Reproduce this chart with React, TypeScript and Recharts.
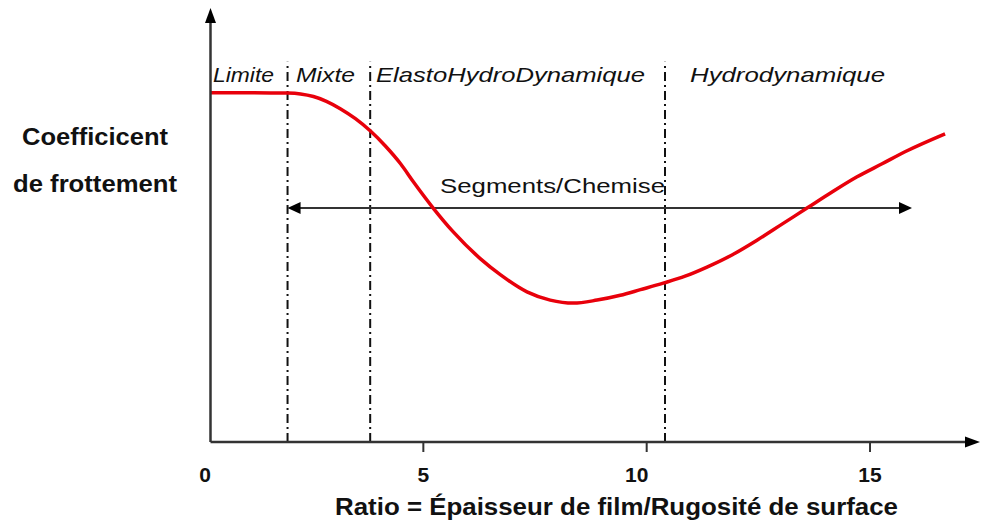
import { LineChart, Line, XAxis, YAxis, ReferenceLine } from "recharts";

// Stribeck curve (x: film ratio, y: friction, arbitrary 0..10)
const ratio = [
  0.235, 1.13, 1.96, 2.25, 2.54, 2.83, 3.14, 3.48, 3.81, 4.15, 4.49, 4.78, 5.22, 5.67, 6.28, 6.73, 7.32,
  7.84, 8.36, 8.89, 9.41, 9.86, 10.37, 10.86, 11.35, 11.91, 12.47, 13.03, 13.59, 14.15, 14.71, 15.27,
  15.83, 16.68,
];
const frottement = [
  8.05, 8.05, 8.04, 8.02, 7.96, 7.85, 7.68, 7.45, 7.17, 6.82, 6.41, 5.99, 5.39, 4.84, 4.22, 3.85, 3.46,
  3.27, 3.2, 3.27, 3.38, 3.51, 3.66, 3.82, 4.03, 4.31, 4.65, 5.02, 5.39, 5.76, 6.11, 6.41,
  6.71, 7.1,
];

const regimeLimits = [1.96, 3.81, 10.41];
const regimeTop = 8.76;
const regimeNames = ["Limite", "Mixte", "ElastoHydroDynamique", "Hydrodynamique"];
const xTicks = [0, 5, 10, 15];
const arrowSpan = [1.96, 15.94];
const arrowLevel = 5.39;
const arrowLabel = "Segments/Chemise";
const yLabel = ["Coefficicent", "de frottement"];
const xLabel = "Ratio = Épaisseur de film/Rugosité de surface";

const data = ratio.map((r, i) => ({ r, f: frottement[i] }));

const W = 981;
const H = 521;
const AXIS = "#333";
const RED = "#e8000b";
const FONT = "'Liberation Sans', Arial, sans-serif";

// label boxes [left, width]
const regimeBoxes = [
  [213, 61],
  [296, 59],
  [376, 269],
  [690, 195],
];

function head(tx: number, ty: number, ux: number, uy: number, len: number, half: number) {
  const bx = tx - ux * len;
  const by = ty - uy * len;
  return `${tx},${ty} ${bx - uy * half},${by + ux * half} ${bx + uy * half},${by - ux * half}`;
}

const arrowShape =
  (opts: { start?: boolean; extend?: number; len: number; half: number; width: number }) =>
  (p: any) => {
    const { x1, y1, x2, y2 } = p;
    const d = Math.hypot(x2 - x1, y2 - y1) || 1;
    const ux = (x2 - x1) / d;
    const uy = (y2 - y1) / d;
    const ext = opts.extend ?? 0;
    const tx = x2 + ux * ext;
    const ty = y2 + uy * ext;
    const sx = opts.start ? x1 + ux * opts.len * 0.8 : x1;
    const sy = opts.start ? y1 + uy * opts.len * 0.8 : y1;
    return (
      <g>
        <line
          x1={sx}
          y1={sy}
          x2={tx - ux * opts.len * 0.8}
          y2={ty - uy * opts.len * 0.8}
          stroke={AXIS}
          strokeWidth={opts.width}
        />
        <polygon points={head(tx, ty, ux, uy, opts.len, opts.half)} fill="#000" />
        {opts.start && <polygon points={head(x1, y1, -ux, -uy, opts.len, opts.half)} fill="#000" />}
      </g>
    );
  };

function Tick(props: any) {
  const { x, y, payload } = props;
  const v = payload.value;
  // labels in the original sit a little off their tick marks
  const shift = v === 0 ? 5 : v === 10 ? -10 : 0;
  return (
    <g>
      {v !== 0 && <line x1={x} x2={x} y1={y} y2={y + 10} stroke={AXIS} strokeWidth={2} />}
      <text
        x={x + shift}
        y={y + 40}
        textAnchor="middle"
        fontFamily={FONT}
        fontWeight="bold"
        fontSize={21}
        fill="#111"
      >
        {v}
      </text>
    </g>
  );
}

export default function App() {
  return (
    <div style={{ position: "absolute", left: 0, top: 0, width: W, height: H, background: "#fff" }}>
      <LineChart width={W} height={H} data={data} margin={{ top: 8, right: 6, bottom: 0, left: 200 }}>
        <XAxis
          type="number"
          dataKey="r"
          domain={[0, 17.35]}
          ticks={xTicks}
          axisLine={false}
          tickLine={false}
          tickSize={0}
          tickMargin={0}
          height={79}
          tick={<Tick />}
          interval={0}
        />
        <YAxis hide domain={[0, 10]} type="number" />

        {regimeLimits.map((x) => (
          <ReferenceLine
            key={x}
            segment={[{ x, y: 0 }, { x, y: regimeTop }]}
            stroke="#111"
            strokeWidth={2}
            strokeDasharray="9 4 2 4"
            ifOverflow="visible"
          />
        ))}

        <ReferenceLine
          segment={[{ x: arrowSpan[0], y: arrowLevel }, { x: arrowSpan[1], y: arrowLevel }]}
          ifOverflow="visible"
          shape={arrowShape({ start: true, len: 13, half: 6, width: 2 })}
        />

        <Line
          type="monotone"
          dataKey="f"
          stroke={RED}
          strokeWidth={3.5}
          dot={false}
          isAnimationActive={false}
        />

        {/* axes with arrowheads */}
        <ReferenceLine
          segment={[{ x: 0.235, y: 0 }, { x: 0.235, y: 10 }]}
          ifOverflow="visible"
          shape={arrowShape({ len: 15, half: 5.5, width: 2.5 })}
        />
        <ReferenceLine
          segment={[{ x: 0.235, y: 0 }, { x: 17.35, y: 0 }]}
          ifOverflow="visible"
          shape={arrowShape({ extend: 5, len: 15, half: 5.5, width: 2.5 })}
        />

        <g fontFamily={FONT} fill="#111">
          {regimeNames.map((n, i) => (
            <text
              key={n}
              x={regimeBoxes[i][0]}
              y={82}
              fontSize={21}
              fontStyle="italic"
              textLength={regimeBoxes[i][1]}
              lengthAdjust="spacingAndGlyphs"
            >
              {n}
            </text>
          ))}
          <text x={440} y={193} fontSize={21} textLength={225} lengthAdjust="spacingAndGlyphs">
            {arrowLabel}
          </text>
          <text x={22} y={145} fontSize={23} fontWeight="bold" textLength={146} lengthAdjust="spacingAndGlyphs">
            {yLabel[0]}
          </text>
          <text x={13} y={192} fontSize={23} fontWeight="bold" textLength={164} lengthAdjust="spacingAndGlyphs">
            {yLabel[1]}
          </text>
          <text x={335} y={515} fontSize={23} fontWeight="bold" textLength={563} lengthAdjust="spacingAndGlyphs">
            {xLabel}
          </text>
        </g>
      </LineChart>
    </div>
  );
}
